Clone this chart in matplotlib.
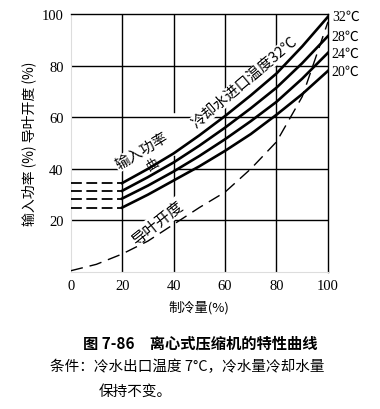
import matplotlib as mpl
import matplotlib.pyplot as plt
import numpy as np

# cooling capacity (%) where the measured curves are given
capacity = [20, 30, 40, 50, 60, 70, 80, 90, 100]

# input power (%) for each cooling-water inlet temperature
power_32 = [34.5, 40.0, 46.0, 53.0, 60.5, 68.5, 77.0, 87.5, 99.0]
power_28 = [31.5, 36.8, 42.5, 49.0, 56.0, 63.5, 71.5, 81.0, 91.5]
power_24 = [28.5, 33.5, 39.0, 45.0, 51.5, 58.5, 66.0, 75.0, 85.0]
power_20 = [25.0, 30.0, 35.5, 41.0, 47.0, 53.5, 61.0, 69.0, 78.0]
temp_labels = ['32℃', '28℃', '24℃', '20℃']

# guide vane opening (%)
vane_capacity = [0, 10, 20, 30, 40, 50, 60, 70, 80, 90, 100]
vane_opening = [0.5, 3.0, 7.0, 12.0, 18.5, 25.0, 31.0, 40.0, 50.5, 68.0, 97.0]

xticks = [0, 20, 40, 60, 80, 100]
yticks = [20, 40, 60, 80, 100]

serif = ['Liberation Serif', 'Noto Sans CJK SC']
cjk = ['Noto Sans CJK SC', 'DejaVu Sans']

fig = plt.figure(figsize=(3.8, 4.1), dpi=100)
ax = fig.add_axes([0.186, 0.334, 0.677, 0.629])
ax.set_xlim(0, 100)
ax.set_ylim(0, 100)

# grid (the 40 lines are broken where the labels sit in the original)
for v in [20, 60, 80]:
    ax.axhline(v, color='black', lw=1.0, zorder=1)
    ax.axvline(v, color='black', lw=1.0, zorder=1)
ax.axhline(40, xmax=0.19, color='black', lw=1.0, zorder=1)
ax.axhline(40, xmin=0.40, color='black', lw=1.0, zorder=1)
ax.axvline(40, ymax=0.45, color='black', lw=1.0, zorder=1)
ax.axvline(40, ymin=0.62, color='black', lw=1.0, zorder=1)

curves = [power_32, power_28, power_24, power_20]
for vals, lab in zip(curves, temp_labels):
    ax.plot(capacity, vals, color='black', lw=1.9, zorder=3)
    # constant power below 20 % load
    ax.plot([0, capacity[0]], [vals[0], vals[0]], color='black', lw=1.3,
            linestyle=(0, (6, 2.5)), zorder=3)
    ax.text(101.5, vals[-1], lab, fontsize=10, family=serif,
            ha='left', va='center', clip_on=False)

ax.plot(vane_capacity, vane_opening, color='black', lw=1.0,
        linestyle=(0, (9, 5)), zorder=3)

bbox = dict(facecolor='white', edgecolor='none', pad=0.5)
ax.text(67.6, 73.6, '冷却水进口温度32℃', fontsize=10.5, family=cjk,
        rotation=40, ha='center', va='center', rotation_mode='anchor',
        bbox=bbox, zorder=2)
ax.text(27.5, 47.0, '输入功率', fontsize=10.5, family=cjk,
        rotation=31, ha='center', va='center', rotation_mode='anchor',
        bbox=bbox, zorder=2)
ax.text(31.9, 41.9, '曲', fontsize=9, family=cjk,
        rotation=31, ha='center', va='center', rotation_mode='anchor', zorder=2)
ax.text(33.8, 19.4, '导叶开度', fontsize=11, family=cjk,
        rotation=38.7, ha='center', va='center', rotation_mode='anchor',
        bbox=bbox, zorder=2)

ax.set_xticks(xticks)
ax.set_yticks(yticks)
ax.set_xticklabels([str(t) for t in xticks], family=serif, fontsize=10.5)
ax.set_yticklabels([str(t) for t in yticks], family=serif, fontsize=10.5)
ax.tick_params(length=0, pad=5)

for side in ['top', 'right']:
    ax.spines[side].set_color('black')
    ax.spines[side].set_linewidth(1.0)
for side in ['left', 'bottom']:
    ax.spines[side].set_color('#dddddd')
    ax.spines[side].set_linewidth(0.8)

ax.set_xlabel('制冷量(%)', family=cjk, fontsize=9.5, labelpad=6)
ax.set_ylabel('输入功率 (%) 导叶开度 (%)', family=cjk, fontsize=10, labelpad=4)

fig.text(0.526, 0.163, '图 7-86　离心式压缩机的特性曲线', family=cjk,
         fontsize=11, fontweight='bold', ha='center', va='center')
fig.text(0.132, 0.105, '条件：冷水出口温度 7°C，冷水量冷却水量', family=cjk,
         fontsize=10.5, ha='left', va='center')
fig.text(0.26, 0.045, '保持不变。', family=cjk,
         fontsize=10.5, ha='left', va='center')

fig.savefig('out.png', dpi=100)
